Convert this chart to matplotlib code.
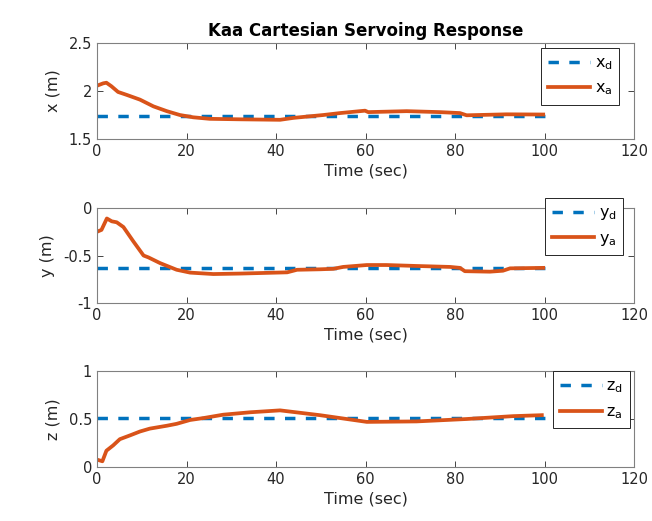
import matplotlib
matplotlib.use("Agg")
import matplotlib.pyplot as plt

# values
t_x = [0, 1.4, 2.1, 3.2, 4.7, 6.6, 9.6, 12.6, 15.6, 18.5, 21.5, 25.2, 32, 40.9,
       43.9, 50.6, 54.3, 59.9, 60.6, 69.2, 76.6, 81.1, 82.6, 91.5, 99.7]
x_a = [2.055, 2.08, 2.086, 2.05, 1.99, 1.96, 1.91, 1.84, 1.79, 1.75, 1.726, 1.71,
       1.705, 1.70, 1.72, 1.75, 1.77, 1.795, 1.78, 1.79, 1.78, 1.77, 1.747, 1.757, 1.755]

t_y = [0, 1.0, 2.2, 3.3, 4.4, 5.9, 8.1, 10.4, 11.5, 14.1, 17.8, 20.8, 26, 32, 42.5,
       44.7, 49.8, 52.8, 55, 60.3, 64.7, 71.4, 78.9, 81.1, 82.2, 87.8, 90.7, 92.3, 99.7]
y_a = [-0.25, -0.23, -0.11, -0.14, -0.15, -0.20, -0.35, -0.50, -0.52, -0.58, -0.65,
       -0.68, -0.695, -0.69, -0.677, -0.65, -0.645, -0.64, -0.62, -0.60, -0.60, -0.61,
       -0.62, -0.63, -0.665, -0.67, -0.66, -0.635, -0.63]

t_z = [0, 1.2, 2.1, 3.6, 5.1, 7.4, 9.6, 11.8, 15.6, 17.8, 20.8, 23.8, 28.2, 34.2,
       40.9, 49.8, 60.3, 71.4, 82.6, 93, 99.4]
z_a = [0.077, 0.06, 0.17, 0.225, 0.29, 0.33, 0.37, 0.40, 0.43, 0.45, 0.49, 0.51,
       0.545, 0.57, 0.59, 0.54, 0.47, 0.475, 0.50, 0.53, 0.54]

t_d = [0, 100]
x_d = [1.743, 1.743]
y_d = [-0.635, -0.635]
z_d = [0.512, 0.512]

blue = "#0072BD"
orange = "#D95319"
axcol = "#262626"

plt.rcParams["font.family"] = "DejaVu Sans"
plt.rcParams["mathtext.default"] = "regular"

fig = plt.figure(figsize=(6.52, 5.21), dpi=100)

panels = [
    # axes rect, desired, actual, t_actual, ylabel, ylim, yticks, legend names, legend anchor
    ([0.1488, 0.7332, 0.8236, 0.1843], x_d, x_a, t_x, "x (m)", (1.5, 2.5), [1.5, 2, 2.5],
     ["x_d", "x_a"], (0.8298, 0.9079)),
    ([0.1488, 0.4184, 0.8236, 0.1823], y_d, y_a, t_y, "y (m)", (-1, 0), [-1, -0.5, 0],
     ["y_d", "y_a"], (0.8359, 0.6200)),
    ([0.1488, 0.1036, 0.8236, 0.1843], z_d, z_a, t_z, "z (m)", (0, 1), [0, 0.5, 1],
     ["z_d", "z_a"], (0.8480, 0.2870)),
]

for i, (rect, des, act, tt, ylab, ylim, yt, names, anchor) in enumerate(panels):
    ax = fig.add_axes(rect)
    l1, = ax.plot(t_d, des, color=blue, lw=2.5, label="$" + names[0] + "$")
    l1.set_dashes([3, 3])
    ax.plot(tt, act, color=orange, lw=2.7, label="$" + names[1] + "$")
    ax.set_xlim(0, 120)
    ax.set_ylim(*ylim)
    ax.set_xticks([0, 20, 40, 60, 80, 100, 120])
    ax.set_yticks(yt)
    ax.set_yticklabels([("%g" % v) for v in yt])
    ax.tick_params(direction="in", top=True, right=True, colors=axcol,
                   labelsize=10.5, length=4, width=0.6)
    for sp in ax.spines.values():
        sp.set_color("#808080")
        sp.set_linewidth(0.8)
    ax.set_xlabel("Time (sec)", fontsize=11.5, color=axcol, labelpad=3)
    ax.set_ylabel(ylab, fontsize=11.5, color=axcol, labelpad=6)
    if i == 0:
        ax.set_title("Kaa Cartesian Servoing Response", fontsize=12, fontweight="bold",
                     color="black", pad=5)
    leg = ax.legend(loc="upper left", bbox_to_anchor=anchor, bbox_transform=fig.transFigure,
                    borderaxespad=0, fontsize=11.5, handlelength=2.6, fancybox=False,
                    framealpha=1, edgecolor="#262626", labelspacing=0.55,
                    borderpad=0.45, handletextpad=0.3)
    leg.get_frame().set_linewidth(0.7)

fig.savefig("out.png", dpi=100)
